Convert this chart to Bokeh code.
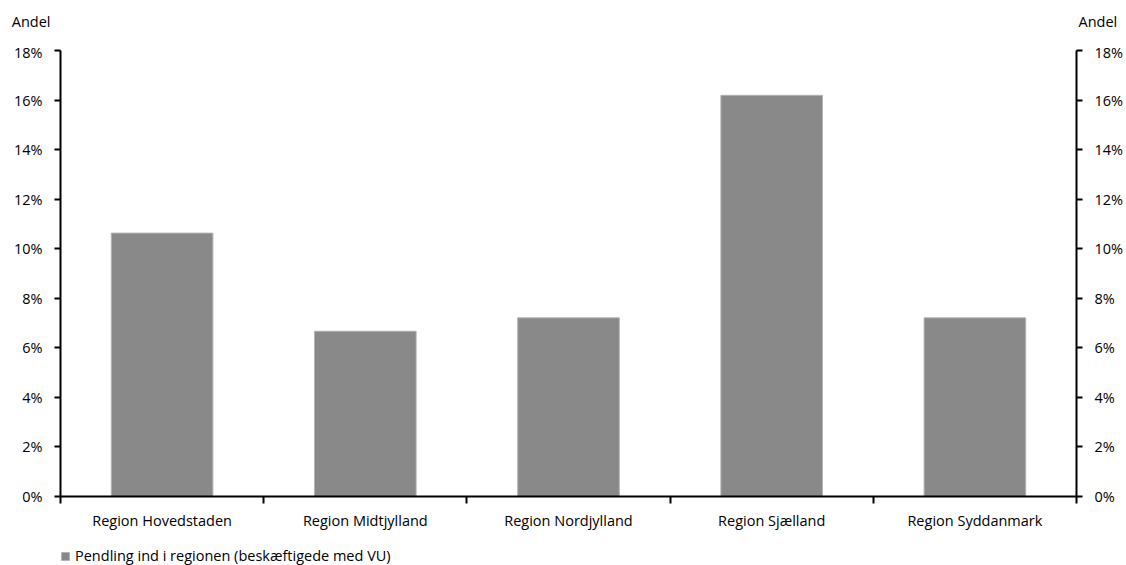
from bokeh.plotting import figure
from bokeh.layouts import column
from bokeh.models import (Range1d, LinearAxis, FixedTicker, NumeralTickFormatter,
                          Legend, LegendItem, ColumnDataSource)
from bokeh.embed import file_html
from bokeh.resources import INLINE

# ---- data ----
regions = ["Region Hovedstaden", "Region Midtjylland", "Region Nordjylland",
           "Region Sjælland", "Region Syddanmark"]
shares = [0.1063, 0.0667, 0.0721, 0.1619, 0.0721]
y_ticks = [0.0, 0.02, 0.04, 0.06, 0.08, 0.10, 0.12, 0.14, 0.16, 0.18]
series_name = "Pendling ind i regionen (beskæftigede med VU)"
axis_title = "Andel"

# ---- layout / style ----
FONT = "Open Sans"
FS = "14.5px"
BAR = "#898989"
EDGE = "#b3b3b3"
W, H = 1126, 565
H_HEAD, H_FOOT = 42, 28
H_MAIN = H - H_HEAD - H_FOOT
FRAME_L, FRAME_R, FRAME_T, FRAME_B = 60, 1077, 50, 496

n = len(regions)
centers = [i + 0.5 for i in range(n)]
src = ColumnDataSource(dict(x=centers, top=shares, name=regions))

p = figure(width=W, height=H_MAIN, output_backend="svg", toolbar_location=None,
           x_range=Range1d(0, n), y_range=Range1d(y_ticks[0], y_ticks[-1]),
           min_border_left=FRAME_L, min_border_right=W - FRAME_R,
           min_border_top=FRAME_T - H_HEAD,
           min_border_bottom=H_HEAD + H_MAIN - FRAME_B)
p.outline_line_color = None
p.xgrid.visible = False
p.ygrid.visible = False

r = p.vbar(x="x", top="top", width=0.5, source=src, fill_color=BAR,
           line_color=EDGE, line_width=1)

# x axis: labels at centres, ticks at category boundaries
xa = p.xaxis[0]
xa.ticker = FixedTicker(ticks=centers, minor_ticks=list(range(n + 1)))
xa.major_label_overrides = {c: name for c, name in zip(centers, regions)}
xa.major_tick_line_color = None
xa.major_tick_out = 7
xa.major_tick_in = 0
xa.minor_tick_line_color = "black"
xa.minor_tick_line_width = 2
xa.minor_tick_out = 7
xa.minor_tick_in = 0
xa.axis_line_width = 2
xa.axis_line_color = "black"
xa.major_label_standoff = 7
xa.major_label_text_font = FONT
xa.major_label_text_font_size = FS
xa.major_label_text_color = "black"

def style_y(ax):
    ax.ticker = FixedTicker(ticks=y_ticks, minor_ticks=[])
    ax.formatter = NumeralTickFormatter(format="0%")
    ax.axis_line_width = 2
    ax.axis_line_color = "black"
    ax.major_tick_line_width = 2
    ax.major_tick_line_color = "black"
    ax.major_tick_out = 6
    ax.major_tick_in = 0
    ax.minor_tick_line_color = None
    ax.major_label_standoff = 12
    ax.major_label_text_font = FONT
    ax.major_label_text_font_size = FS
    ax.major_label_text_color = "black"

style_y(p.yaxis[0])
ra = LinearAxis()
style_y(ra)
p.add_layout(ra, "right")

# header / footer strips (frames are aligned with the main plot by the column)
def strip(h, with_axes=False):
    s = figure(width=W, height=h, output_backend="svg", toolbar_location=None,
               x_range=Range1d(0, n), y_range=Range1d(0, h),
               x_axis_type=None, y_axis_type=None,
               min_border_left=FRAME_L, min_border_right=W - FRAME_R,
               min_border_top=0, min_border_bottom=0)
    s.outline_line_color = None
    s.xgrid.visible = False
    s.ygrid.visible = False
    return s

# header: the "Andel" titles of both value axes, as horizontal axis labels
head = strip(H_HEAD)
for side, standoff in [("left", 10), ("right", 2)]:
    ax = LinearAxis(ticker=FixedTicker(ticks=[], minor_ticks=[]),
                    axis_label=axis_title, axis_label_orientation="horizontal",
                    axis_label_standoff=standoff,
                    axis_label_text_font=FONT, axis_label_text_font_size=FS,
                    axis_label_text_font_style="normal",
                    axis_label_text_color="black",
                    axis_line_color=None, major_tick_line_color=None,
                    minor_tick_line_color=None, major_tick_out=0, major_tick_in=0,
                    minor_tick_out=0, minor_tick_in=0, major_label_standoff=0)
    head.add_layout(ax, side)

foot = strip(H_FOOT)
proxy = foot.vbar(x="x", top="top", width=0.5, source=src, fill_color=BAR,
                  line_color=EDGE, line_width=1, visible=False)
legend = Legend(items=[LegendItem(label=series_name, renderers=[proxy])],
                location=(0, 0), orientation="horizontal",
                glyph_width=10, glyph_height=10, label_standoff=5,
                label_text_font=FONT, label_text_font_size=FS,
                label_text_color="black",
                inactive_fill_alpha=0,
                border_line_color=None, background_fill_alpha=0,
                padding=0, margin=0, spacing=0)
foot.add_layout(legend)

layout = column(head, p, foot, spacing=0)
open("out.html", "w").write(file_html(layout, INLINE))
